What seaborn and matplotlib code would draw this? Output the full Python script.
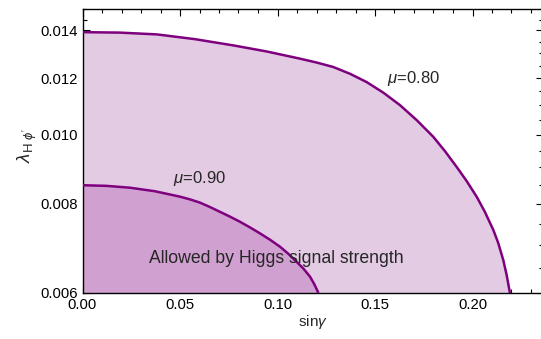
import numpy as np
import pandas as pd
import matplotlib
matplotlib.use("Agg")
import matplotlib.pyplot as plt
from matplotlib.ticker import FixedLocator, FixedFormatter, NullFormatter
import seaborn as sns

# Contour mu = 0.80 (sin gamma, lambda_H phi')
sin_gamma_080 = [0.0000, 0.0190, 0.0381, 0.0576, 0.0772, 0.0944, 0.1115, 0.1201,
                 0.1286, 0.1372, 0.1457, 0.1543, 0.1628, 0.1714, 0.1799, 0.1859,
                 0.1919, 0.1970, 0.2022, 0.2064, 0.2107, 0.2132, 0.2158, 0.2175,
                 0.2192]
lambda_080 = [0.01392, 0.01390, 0.01382, 0.01361, 0.01334, 0.01308, 0.01278, 0.01262,
              0.01244, 0.01217, 0.01185, 0.01145, 0.01100, 0.01048, 0.00993, 0.00948,
              0.00901, 0.00861, 0.00818, 0.00779, 0.00735, 0.00705, 0.00667, 0.00636,
              0.00600]

# Contour mu = 0.90
sin_gamma_090 = [0.0000, 0.0122, 0.0244, 0.0372, 0.0500, 0.0551, 0.0603, 0.0654,
                 0.0705, 0.0756, 0.0808, 0.0859, 0.0910, 0.0962, 0.1013, 0.1056,
                 0.1098, 0.1133, 0.1167, 0.1188, 0.1210]
lambda_090 = [0.008495, 0.008478, 0.008427, 0.008331, 0.008187, 0.008116, 0.008030,
              0.007917, 0.007796, 0.007677, 0.007549, 0.007414, 0.007273, 0.007124,
              0.006966, 0.006807, 0.006636, 0.006491, 0.006323, 0.006178, 0.006000]

x_ticks = [0.00, 0.05, 0.10, 0.15, 0.20]
x_tick_labels = ["0.00", "0.05", "0.10", "0.15", "0.20"]
y_ticks = [0.006, 0.008, 0.010, 0.012, 0.014]
y_tick_labels = ["0.006", "0.008", "0.010", "0.012", "0.014"]

sns.set_style("ticks")
plt.rcParams["font.family"] = ["Liberation Sans", "DejaVu Sans"]
plt.rcParams["mathtext.fontset"] = "custom"
plt.rcParams["mathtext.rm"] = "Liberation Sans"
plt.rcParams["mathtext.it"] = "Liberation Sans:italic"

line_color = "#7f007f"
fill_light = "#e3cbe3"
fill_dark = "#d0a0d0"

df80 = pd.DataFrame({"s": sin_gamma_080, "lam": lambda_080})
df90 = pd.DataFrame({"s": sin_gamma_090, "lam": lambda_090})

fig = plt.figure(figsize=(5.41, 3.39), dpi=100)
ax = fig.add_axes([82.5 / 541, 46 / 339, 460 / 541, 284 / 339])

ax.fill_between(df80["s"], 0.006, df80["lam"], color=fill_light, lw=0, zorder=1)
ax.fill_between(df90["s"], 0.006, df90["lam"], color=fill_dark, lw=0, zorder=1)

for df in (df80, df90):
    sns.lineplot(data=df, x="s", y="lam", ax=ax, color=line_color, lw=1.8,
                 sort=False, estimator=None, zorder=3,
                 solid_joinstyle="round", solid_capstyle="butt")

ax.set_yscale("log")
ax.set_xlim(0, 460 / 1950)
ax.set_ylim(0.006, 0.015)

ax.xaxis.set_major_locator(FixedLocator(x_ticks))
ax.xaxis.set_major_formatter(FixedFormatter(x_tick_labels))
ax.xaxis.set_minor_locator(FixedLocator([i * 0.01 for i in range(0, 24)]))
ax.yaxis.set_major_locator(FixedLocator(y_ticks))
ax.yaxis.set_major_formatter(FixedFormatter(y_tick_labels))
ax.yaxis.set_minor_locator(FixedLocator([0.006 + i * 0.0005 for i in range(0, 19)]))
ax.yaxis.set_minor_formatter(NullFormatter())

ax.tick_params(which="both", direction="in", top=True, right=True,
               labelsize=10.7, colors="black", width=0.8)
ax.tick_params(which="major", length=5)
ax.tick_params(which="minor", length=2.8)
for sp in ax.spines.values():
    sp.set_linewidth(1.0)
    sp.set_color("black")
ax.spines["right"].set_visible(False)

ax.set_xlabel(r"sin$\gamma$", fontsize=11, labelpad=0.5)
ax.set_ylabel(r"$\lambda_{\mathrm{H}\ \phi^{\prime}}$", fontsize=13.5)
ax.yaxis.set_label_coords(-0.095, 0.52)

ax.text(0.1563, 0.011988, r"$\mu$=0.80", fontsize=12, ha="left", va="center", zorder=4)
ax.text(0.0464, 0.008690, r"$\mu$=0.90", fontsize=12, ha="left", va="center", zorder=4)
ax.text(0.0343, 0.006716, "Allowed by Higgs signal strength", fontsize=12.7,
        ha="left", va="center", zorder=4)

fig.savefig("out.png", dpi=100)
